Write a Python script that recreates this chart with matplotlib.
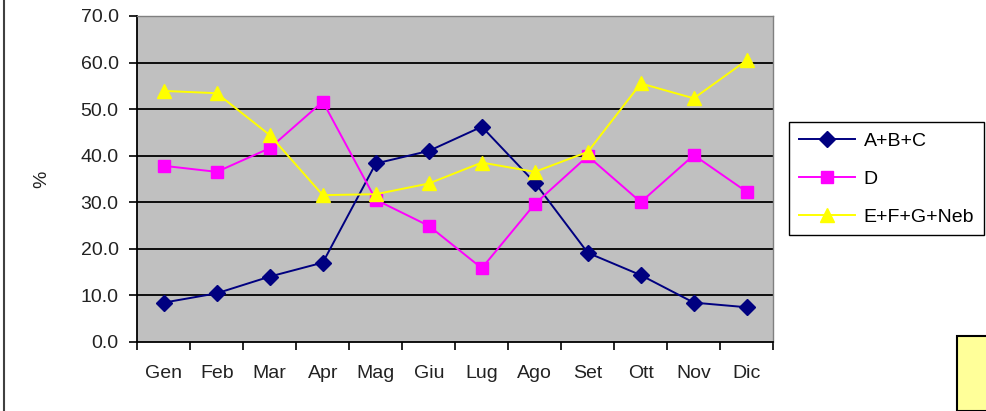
import numpy as np
import matplotlib
matplotlib.use('Agg')
import matplotlib.pyplot as plt
from matplotlib.patches import Rectangle
from matplotlib.lines import Line2D

plt.rcParams['font.family'] = ['Liberation Sans', 'DejaVu Sans']

months = ['Gen', 'Feb', 'Mar', 'Apr', 'Mag', 'Giu', 'Lug', 'Ago', 'Set', 'Ott', 'Nov', 'Dic']
abc = [8.4, 10.4, 14.0, 17.0, 38.3, 41.0, 46.2, 34.2, 19.1, 14.3, 8.4, 7.4]
d = [37.8, 36.5, 41.6, 51.6, 30.5, 24.9, 15.8, 29.6, 39.9, 30.0, 40.1, 32.2]
efg = [53.9, 53.4, 44.4, 31.5, 31.7, 34.0, 38.5, 36.5, 40.8, 55.5, 52.3, 60.5]
yticks = [0, 10, 20, 30, 40, 50, 60, 70]

fs = 14
fig = plt.figure(figsize=(9.87, 4.11), dpi=100)
ax = fig.add_axes([0.1391, 0.1686, 0.6444, 0.7925])
ax.set_facecolor('#C0C0C0')

x = np.arange(len(months))
ax.plot(x, abc, color='#000080', marker='D', markersize=8.5, lw=1.4, label='A+B+C')
ax.plot(x, d, color='#FF00FF', marker='s', markersize=8, lw=1.4, label='D')
ax.plot(x, efg, color='#FFFF00', marker='^', markersize=9.5, lw=1.4, label='E+F+G+Neb')

ax.set_xlim(-0.5, 11.5)
ax.set_ylim(0, 70)
ax.set_yticks(yticks)
ax.set_yticklabels(['%.1f' % v for v in yticks], fontsize=fs, color='#222222')
for v in yticks[1:-1]:
    ax.axhline(v, color='black', lw=1.3, zorder=1)

ax.set_xticks(np.arange(-0.5, 12, 1))
ax.set_xticklabels([])
ax.set_xticks(x, minor=True)
ax.set_xticklabels(months, minor=True, fontsize=fs, color='#222222')
ax.tick_params(axis='x', which='minor', length=0, pad=17)
ax.tick_params(axis='x', which='major', length=6, width=1.2, direction='out')
ax.tick_params(axis='y', length=6, width=1.2, direction='out', pad=7.5)

for s in ['left', 'bottom']:
    ax.spines[s].set_color('black')
    ax.spines[s].set_linewidth(1.3)
for s in ['top', 'right']:
    ax.spines[s].set_color('#808080')
    ax.spines[s].set_linewidth(1.0)

ax.set_ylabel('%', fontsize=fs, color='#222222')
ax.yaxis.set_label_coords(-0.137, 0.5)

fig.legend(loc='upper left', bbox_to_anchor=(0.7994, 0.7024), borderaxespad=0,
           fontsize=fs, handlelength=2.9, labelspacing=1.05, frameon=True,
           fancybox=False, edgecolor='black', framealpha=1, borderpad=0.5,
           handletextpad=0.45)

# left chart border and yellow box
fig.add_artist(Line2D([4 / 987, 4 / 987], [0, 1], color='#404040', lw=1.5, transform=fig.transFigure))
fig.add_artist(Rectangle((957 / 987, 0), 40 / 987, 75 / 411, transform=fig.transFigure,
                         facecolor='#FFFF99', edgecolor='black', lw=1.5))

fig.savefig('out.png', dpi=100)
